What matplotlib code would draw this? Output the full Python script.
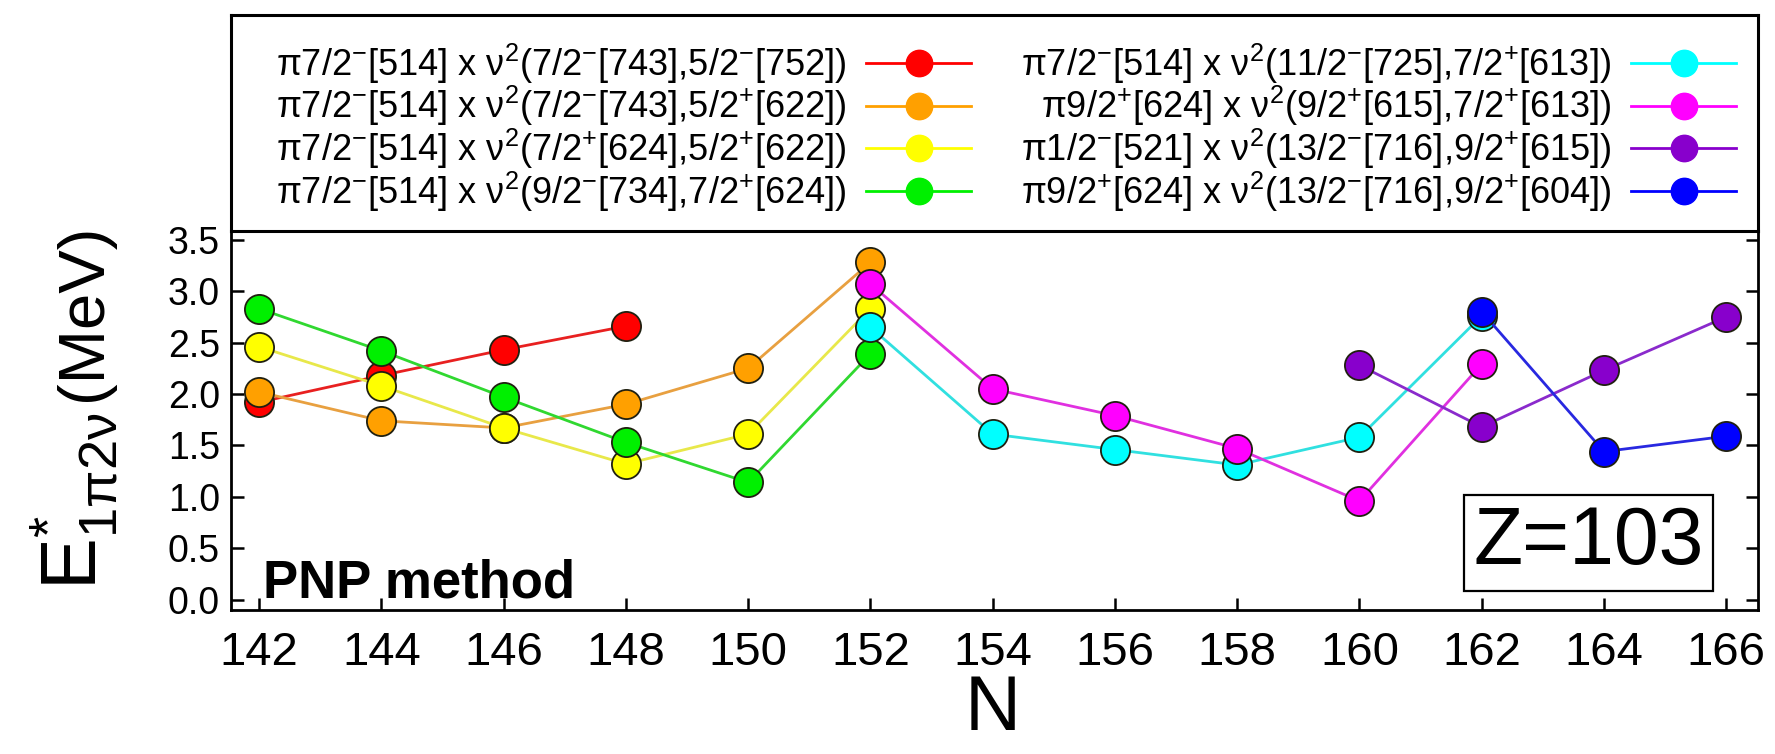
import matplotlib
matplotlib.use("Agg")
import matplotlib.pyplot as plt
from matplotlib.lines import Line2D

# ---- data -------------------------------------------------------------
n_ticks = [142, 144, 146, 148, 150, 152, 154, 156, 158, 160, 162, 164, 166]
y_ticks = [0.0, 0.5, 1.0, 1.5, 2.0, 2.5, 3.0, 3.5]

labels = [
    r"π7/2$^{-}$[514] x ν$^{2}$(7/2$^{-}$[743],5/2$^{-}$[752])",
    r"π7/2$^{-}$[514] x ν$^{2}$(7/2$^{-}$[743],5/2$^{+}$[622])",
    r"π7/2$^{-}$[514] x ν$^{2}$(7/2$^{+}$[624],5/2$^{+}$[622])",
    r"π7/2$^{-}$[514] x ν$^{2}$(9/2$^{-}$[734],7/2$^{+}$[624])",
    r"π7/2$^{-}$[514] x ν$^{2}$(11/2$^{-}$[725],7/2$^{+}$[613])",
    r"π9/2$^{+}$[624] x ν$^{2}$(9/2$^{+}$[615],7/2$^{+}$[613])",
    r"π1/2$^{-}$[521] x ν$^{2}$(13/2$^{-}$[716],9/2$^{+}$[615])",
    r"π9/2$^{+}$[624] x ν$^{2}$(13/2$^{-}$[716],9/2$^{+}$[604])",
]
colors = ["#ff0000", "#ffa000", "#ffff00", "#00f000",
          "#00ffff", "#ff00ff", "#8800cc", "#0000ff"]
line_colors = ["#e82020", "#e8a040", "#e8e84a", "#30d830",
               "#30e0e0", "#e030e0", "#8a2acc", "#2828e0"]

n_red = [142, 144, 146, 148]
e_red = [1.92, 2.18, 2.43, 2.66]
n_orange = [142, 144, 146, 148, 150, 152]
e_orange = [2.02, 1.74, 1.67, 1.90, 2.25, 3.28]
n_yellow = [142, 144, 146, 148, 150, 152]
e_yellow = [2.46, 2.08, 1.67, 1.32, 1.61, 2.83]
n_green = [142, 144, 146, 148, 150, 152]
e_green = [2.83, 2.42, 1.97, 1.53, 1.14, 2.39]
n_cyan = [152, 154, 156, 158, 160, 162]
e_cyan = [2.65, 1.61, 1.46, 1.31, 1.58, 2.76]
n_magenta = [152, 154, 156, 158, 160, 162]
e_magenta = [3.07, 2.05, 1.79, 1.47, 0.96, 2.29]
n_purple = [160, 162, 164, 166]
e_purple = [2.28, 1.68, 2.23, 2.75]
n_blue = [162, 164, 166]
e_blue = [2.80, 1.44, 1.59]

series_n = [n_red, n_orange, n_yellow, n_green, n_cyan, n_magenta, n_purple, n_blue]
series_e = [e_red, e_orange, e_yellow, e_green, e_cyan, e_magenta, e_purple, e_blue]

# ---- style ------------------------------------------------------------
plt.rcParams["font.family"] = ["Liberation Sans", "DejaVu Sans"]
plt.rcParams["mathtext.fontset"] = "custom"
plt.rcParams["mathtext.rm"] = "Liberation Sans"
plt.rcParams["mathtext.it"] = "Liberation Sans:italic"
plt.rcParams["mathtext.default"] = "regular"

W, H = 1775, 754
fig = plt.figure(figsize=(W / 100, H / 100), dpi=100)

ax_l, ax_r, ax_t, ax_b = 231, 1758, 231, 610
ax = fig.add_axes([ax_l / W, 1 - ax_b / H, (ax_r - ax_l) / W, (ax_b - ax_t) / H])
lax = fig.add_axes([ax_l / W, 1 - ax_t / H, (ax_r - ax_l) / W, (ax_t - 15) / H])

for i in range(len(series_n)):
    ax.plot(series_n[i], series_e[i], "-", color=line_colors[i], lw=2.0,
            marker="o", ms=21, mfc=colors[i], mec="#202010", mew=1.3,
            zorder=2 + i)

ax.set_xlim(141.54, 166.52)
ax.set_ylim(-0.1, 3.585)
ax.set_xticks(n_ticks)
ax.set_xticklabels([str(v) for v in n_ticks])
ax.set_yticks(y_ticks)
ax.set_yticklabels([f"{v:.1f}" for v in y_ticks])
ax.tick_params(axis="x", direction="in", length=9, width=1.8, labelsize=34, pad=15)
ax.tick_params(axis="y", direction="in", length=9, width=1.8, labelsize=27, pad=8,
               right=True)
for s in ax.spines.values():
    s.set_linewidth(2.0)

ax.text(0.021, 0.032, "PNP method", transform=ax.transAxes, fontsize=38,
        fontweight="bold", ha="left", va="baseline")
ax.text(0.889, 0.177, "Z=103", transform=ax.transAxes, fontsize=58,
        ha="center", va="center",
        bbox=dict(boxstyle="square,pad=0.12", fc="white", ec="black", lw=1.6),
        zorder=20)

fig.text(993 / W, 1 - 710 / H, "N", fontsize=56, ha="center", va="center")
# vertical axis title: symbol part and unit part
fig.text(120 / W, 1 - 590 / H, r"E$^{*}_{1\pi2\nu}$", fontsize=56,
         rotation=90, ha="right", va="bottom")
fig.text(114 / W, 1 - 224 / H, "(MeV)", fontsize=47,
         rotation=90, ha="right", va="top")

# ---- legend box -------------------------------------------------------
lax.set_xticks([])
lax.set_yticks([])
for s in lax.spines.values():
    s.set_linewidth(2.2)

handles = [Line2D([], [], color=colors[i], lw=2.0, marker="o", ms=19,
                  mfc=colors[i], mec=colors[i]) for i in range(len(labels))]
fs = 26
common = dict(loc="center right", frameon=False, markerfirst=False,
              fontsize=fs, handlelength=2.9, handletextpad=0.55,
              labelspacing=-0.04, borderpad=0, borderaxespad=0,
              bbox_transform=lax.transAxes)
leg1 = lax.legend(handles[:4], labels[:4],
                  bbox_to_anchor=((971 - ax_l) / (ax_r - ax_l), 0.479), **common)
lax.add_artist(leg1)
lax.legend(handles[4:], labels[4:],
           bbox_to_anchor=((1736 - ax_l) / (ax_r - ax_l), 0.479), **common)

fig.savefig("out.png", dpi=100)
